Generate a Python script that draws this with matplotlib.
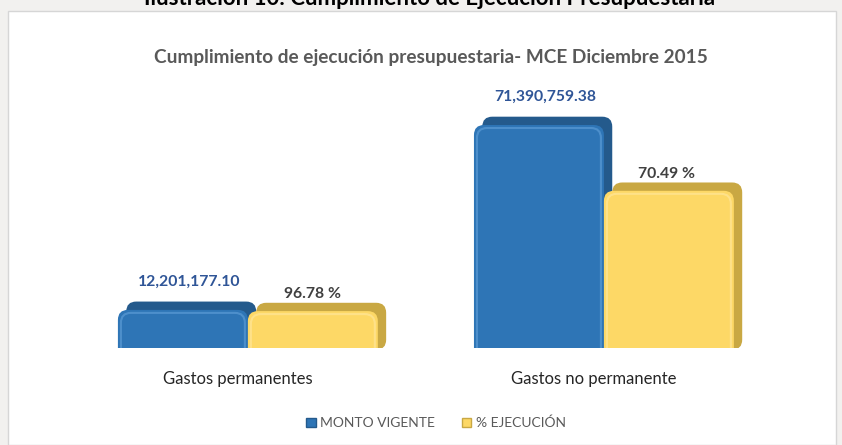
import numpy as np
import matplotlib
matplotlib.use('Agg')
import matplotlib.pyplot as plt
from matplotlib.patches import FancyBboxPatch, Rectangle, Patch
from matplotlib.transforms import ScaledTranslation

plt.rcParams['font.family'] = ['Lato', 'DejaVu Sans']

# datos
categorias = ['Gastos permanentes', 'Gastos no permanente']
monto_vigente = [12201177.10, 71390759.38]
pct_ejecucion = [96.78, 70.49]
# monto ejecutado (lo que dibujan las barras amarillas)
monto_ejecutado = [m * p / 100 for m, p in zip(monto_vigente, pct_ejecucion)]

titulo = 'Cumplimiento de ejecución presupuestaria- MCE Diciembre 2015'
ilustracion = 'Ilustración 10: Cumplimiento de Ejecución Presupuestaria'

W, H = 842, 445
fig = plt.figure(figsize=(W / 100, H / 100), dpi=100, facecolor='#f2f1ef')

# panel blanco del gráfico
fig.patches.append(Rectangle((8 / W, 0), (836 - 8) / W, (H - 11) / H,
                             transform=fig.transFigure, facecolor='white',
                             edgecolor='#d6d6d6', lw=1, zorder=-5))
fig.text(430 / W, 1 + 1 / H, ilustracion, ha='center', va='center',
         fontsize=16, fontweight='bold', color='black')
fig.text(431 / W, 1 - 57 / H, titulo, ha='center', va='center',
         fontsize=13.7, fontweight='bold', color='#595959')

ax = fig.add_axes([20 / W, (H - 348) / H, 810 / W, 248 / H])
ax.set_facecolor('none')
x = np.arange(len(categorias))
w = 0.365
ax.set_xlim(-0.640, 1.635)
ax.set_ylim(0, 79.4e6)

barras_az = ax.bar(x - w / 2, monto_vigente, w, color='none')
barras_am = ax.bar(x + w / 2, monto_ejecutado, w, color='none')

fig.canvas.draw()
px_x = ax.transData.transform((1, 0))[0] - ax.transData.transform((0, 0))[0]
px_y = ax.transData.transform((0, 1e6))[1] - ax.transData.transform((0, 0))[1]
aspect = px_x / (px_y / 1e6)
rad = 10 / px_x


def barra_3d(rects, frente, lado, brillo):
    desplaz = ax.transData + ScaledTranslation(6 / 72, 6 / 72, fig.dpi_scale_trans)
    for r in rects:
        x0, bw, h = r.get_x(), r.get_width(), r.get_height()
        y0 = -rad * aspect
        estilo = f'round,pad=0,rounding_size={rad}'
        ax.add_patch(FancyBboxPatch((x0, y0), bw, h - y0, boxstyle=estilo,
                                    mutation_aspect=aspect, fc=lado, ec='none',
                                    transform=desplaz, zorder=2))
        ax.add_patch(FancyBboxPatch((x0, y0), bw, h - y0, boxstyle=estilo,
                                    mutation_aspect=aspect, fc=frente, ec='none',
                                    zorder=3))
        ins = 3 / px_x
        ax.add_patch(FancyBboxPatch((x0 + ins, y0), bw - 2 * ins,
                                    h - y0 - ins * aspect, boxstyle=estilo,
                                    mutation_aspect=aspect, fc='none', ec=brillo,
                                    lw=1.5, alpha=0.7, zorder=4))


barra_3d(barras_az, '#2e75b6', '#245a8c', '#5b9bd5')
barra_3d(barras_am, '#fdd866', '#c9a843', '#ffe699')

for r, v in zip(barras_az, monto_vigente):
    ax.annotate(f'{v:,.2f}', (r.get_x() + r.get_width() / 2, r.get_height()),
                xytext=(6, 28), textcoords='offset pixels', ha='center',
                va='center', fontsize=11.3, fontweight='bold', color='#2f5597')
for i, (r, p) in enumerate(zip(barras_am, pct_ejecucion)):
    ax.annotate(f'{p:.2f} %', (r.get_x() + r.get_width() / 2, r.get_height()),
                xytext=(-2 * i, 17), textcoords='offset pixels', ha='center',
                va='center', fontsize=11.3, fontweight='bold', color='#404040')

# etiquetas de categoría
for xi, cat in zip(x, categorias):
    ax.annotate(cat, (xi, 0), xycoords=('data', 'axes fraction'),
                xytext=(-10, -31), textcoords='offset pixels', ha='center',
                va='center', fontsize=12, color='#262626')
ax.set_xticks([])
ax.set_yticks([])
for s in ax.spines.values():
    s.set_visible(False)

handles = [Patch(fc='#2e75b6', ec='#245a8c'), Patch(fc='#fdd866', ec='#c9a843')]
fig.legend(handles, ['MONTO VIGENTE', '% EJECUCIÓN'], loc='center',
           bbox_to_anchor=(436 / W, 1 - 423 / H), ncol=2, frameon=False,
           handlelength=0.7, handleheight=0.7, handletextpad=0.3,
           columnspacing=1.9, fontsize=10, labelcolor='#595959')

fig.savefig('out.png', dpi=100, facecolor=fig.get_facecolor())
